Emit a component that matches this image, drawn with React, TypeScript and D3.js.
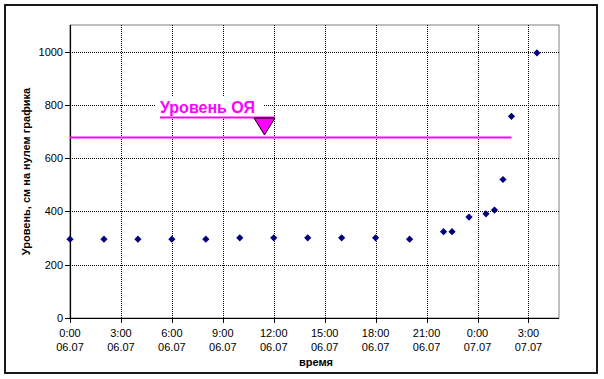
import React from "react";
import * as d3 from "d3";

const hours = [0, 2, 4, 6, 8, 10, 12, 14, 16, 18, 20, 22, 22.5, 23.5, 24.5, 25, 25.5, 26, 27.5];
const levels = [296, 296, 296, 296, 296, 301, 301, 301, 301, 301, 296, 324, 324, 379, 391, 405, 520, 757, 995];
const xTicks = [0, 3, 6, 9, 12, 15, 18, 21, 24, 27];
const yTicks = [0, 200, 400, 600, 800, 1000];
const ojLevel = 678;
const ojStart = 0;
const ojEnd = 26;
const ojLabel = "Уровень ОЯ";
const yTitle = "Уровень, см на нулем графика";
const xTitle = "время";

const W = 604;
const H = 379;
const FONT = "'Liberation Sans', Arial, sans-serif";

export default function App() {
  const left = 70, right = 559, top = 25, bottom = 318;
  const x = d3.scaleLinear().domain([0, 28.8]).range([left, right]);
  const y = d3.scaleLinear().domain([0, 1100]).range([bottom, top]);
  const timeLabel = (h: number) => `${h % 24}:00`;
  const dateLabel = (h: number) => (h < 24 ? "06.07" : "07.07");
  const r = 3.6;
  const diamond = `M0,${-r}L${r},0L0,${r}L${-r},0Z`;

  const lineY = y(ojLevel);
  const triTopY = 118;
  const triX = 264.5;

  return (
    <svg width={W} height={H} style={{ position: "absolute", left: 0, top: 0, background: "#fff" }}>
      <rect x={0} y={0} width={W} height={H} fill="#fff" />
      <rect x={5} y={5} width={592} height={368} fill="#fff" stroke="#000" strokeWidth={1.8} />
      <rect x={left} y={top} width={right - left} height={bottom - top} fill="#fff" stroke="#808080" strokeWidth={1} />
      {yTicks.filter((t) => t > 0).map((t) => (
        <line key={"gy" + t} x1={left} x2={right} y1={Math.round(y(t)) + 0.5} y2={Math.round(y(t)) + 0.5}
          stroke="#000" strokeWidth={1} strokeDasharray="1,1" />
      ))}
      {xTicks.filter((t) => t > 0).map((t) => (
        <line key={"gx" + t} x1={Math.round(x(t)) + 0.5} x2={Math.round(x(t)) + 0.5} y1={top} y2={bottom}
          stroke="#000" strokeWidth={1} strokeDasharray="1,1" />
      ))}
      <line x1={left + 0.5} x2={left + 0.5} y1={top} y2={bottom + 0.5} stroke="#000" strokeWidth={1.2} />
      <line x1={left} x2={right} y1={bottom + 0.5} y2={bottom + 0.5} stroke="#000" strokeWidth={1.2} />
      {yTicks.map((t) => (
        <g key={"yt" + t}>
          <line x1={left - 5} x2={left} y1={Math.round(y(t)) + 0.5} y2={Math.round(y(t)) + 0.5} stroke="#000" />
          <text x={63} y={y(t) + 4} textAnchor="end" fontFamily={FONT} fontSize={11} fill="#000">{t}</text>
        </g>
      ))}
      {xTicks.map((t) => (
        <g key={"xt" + t}>
          <line x1={Math.round(x(t)) + 0.5} x2={Math.round(x(t)) + 0.5} y1={bottom} y2={bottom + 5} stroke="#000" />
          <text x={x(t)} y={337} textAnchor="middle" fontFamily={FONT} fontSize={11} fill="#000">{timeLabel(t)}</text>
          <text x={x(t)} y={351} textAnchor="middle" fontFamily={FONT} fontSize={11} fill="#000">{dateLabel(t)}</text>
        </g>
      ))}
      <text x={316} y={366} textAnchor="middle" fontFamily={FONT} fontSize={11} fontWeight="bold" fill="#000">{xTitle}</text>
      <text transform={`translate(30,${(top + bottom) / 2}) rotate(-90)`} textAnchor="middle" fontFamily={FONT}
        fontSize={11} fontWeight="bold" fill="#000">{yTitle}</text>
      <line x1={x(ojStart)} x2={x(ojEnd)} y1={lineY} y2={lineY} stroke="#ff00ff" strokeWidth={2} />
      <rect x={155} y={96} width={108} height={20} fill="#fff" />
      <text x={160} y={113} fontFamily={FONT} fontSize={16} fontWeight="bold" fill="#ff00ff">{ojLabel}</text>
      <line x1={160} x2={275} y1={117.5} y2={117.5} stroke="#ff00ff" strokeWidth={2} />
      <path d={`M${triX - 10.5},${triTopY} L${triX + 10.5},${triTopY} L${triX},${lineY - 2.5} Z`} fill="#ff00ff" stroke="#000" strokeWidth={1} />
      {hours.map((h, i) => (
        <path key={"p" + i} d={diamond} transform={`translate(${x(h)},${y(levels[i])})`} fill="#000080" />
      ))}
    </svg>
  );
}
